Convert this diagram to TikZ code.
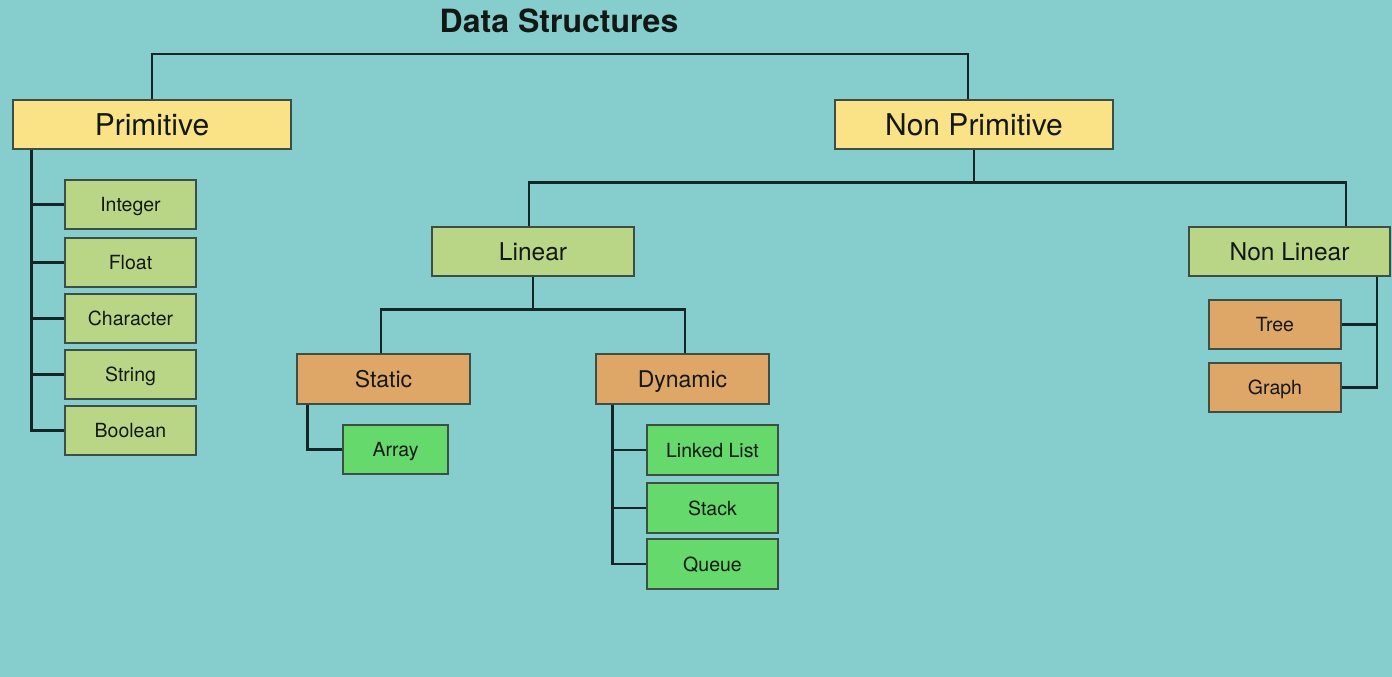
\documentclass[tikz,border=0pt]{standalone}
\usepackage{fontspec}
\setmainfont{TeX Gyre Heros}
\definecolor{bgc}{RGB}{134,205,205}
\definecolor{yel}{RGB}{249,227,134}
\definecolor{lgr}{RGB}{185,214,134}
\definecolor{ora}{RGB}{222,166,103}
\definecolor{bgr}{RGB}{102,217,108}
\definecolor{bord}{RGB}{62,78,68}
\definecolor{linec}{RGB}{22,38,40}
\definecolor{txt}{RGB}{20,24,20}
\begin{document}
\begin{tikzpicture}[x=1pt,y=-1pt,
  box/.style={draw=bord,line width=1.4pt,inner sep=0pt,text=txt,text depth=0pt},
  bigbox/.style={box,fill=yel,minimum width=278pt,minimum height=49pt,text height=22.5pt,font=\fontsize{30}{32}\selectfont},
  midbox/.style={box,fill=lgr,minimum height=49pt,text height=18.4pt,font=\fontsize{24.5}{26}\selectfont},
  orbox/.style={box,fill=ora,minimum width=173pt,minimum height=50pt,text height=17.3pt,font=\fontsize{23}{25}\selectfont},
  leafbox/.style={box,minimum height=49pt,text height=14.6pt,font=\fontsize{19.5}{21}\selectfont},
  conn/.style={draw=linec,line width=2.4pt}]
\fill[bgc] (0,0) rectangle (1392,677);
\node[font=\bfseries\fontsize{32}{34}\selectfont,text=txt] (title) at (559,21) {Data Structures};
% level 1
\node[bigbox] (prim) at (152,124.5) {Primitive};
\node[bigbox] (npr) at (974,124.5) {Non Primitive};
% primitive children
\node[leafbox,fill=lgr,minimum width=131pt] (int) at (130.5,204.5) {Integer};
\node[leafbox,fill=lgr,minimum width=131pt] (flt) at (130.5,262.5) {Float};
\node[leafbox,fill=lgr,minimum width=131pt] (chr) at (130.5,318.5) {Character};
\node[leafbox,fill=lgr,minimum width=131pt] (str) at (130.5,374.5) {String};
\node[leafbox,fill=lgr,minimum width=131pt] (bool) at (130.5,430.5) {Boolean};
% non primitive children
\node[midbox,minimum width=202pt] (lin) at (533,251.5) {Linear};
\node[midbox,minimum width=201pt] (nlin) at (1289.5,251.5) {Non Linear};
% linear children
\node[orbox] (stat) at (383.5,379) {Static};
\node[orbox] (dyn) at (682.5,379) {Dynamic};
\node[leafbox,fill=bgr,minimum width=105pt] (arr) at (395.5,449.5) {Array};
\node[leafbox,fill=bgr,minimum width=131pt,minimum height=50pt] (ll) at (712.5,450) {Linked List};
\node[leafbox,fill=bgr,minimum width=131pt,minimum height=50pt] (stk) at (712.5,508) {Stack};
\node[leafbox,fill=bgr,minimum width=131pt,minimum height=50pt] (que) at (712.5,564) {Queue};
% non linear children
\node[leafbox,fill=ora,minimum width=132pt] (tree) at (1275,324.5) {Tree};
\node[leafbox,fill=ora,minimum width=132pt] (grph) at (1275,387.5) {Graph};
% connectors
\draw[conn] (prim.north) -- ++(0,-45) -| ([xshift=-6pt]npr.north);
\draw[conn] (npr.south) -- ++(0,34);
\draw[conn] ([xshift=-4pt]lin.north) -- ++(0,-44) -| ([xshift=56.5pt]nlin.north);
\draw[conn] (lin.south) -- ++(0,34);
\draw[conn] ([xshift=-2.5pt]stat.north) -- ++(0,-44) -| ([xshift=2.5pt]dyn.north);
\foreach \c in {int,flt,chr,str,bool}
  \draw[conn] ([xshift=19pt]prim.south west) |- (\c.west);
\draw[conn] ([xshift=11pt]stat.south west) |- (arr.west);
\foreach \c in {ll,stk,que}
  \draw[conn] ([xshift=17pt]dyn.south west) |- (\c.west);
\foreach \c in {tree,grph}
  \draw[conn] ([xshift=-14pt]nlin.south east) |- (\c.east);
\end{tikzpicture}
\end{document}
